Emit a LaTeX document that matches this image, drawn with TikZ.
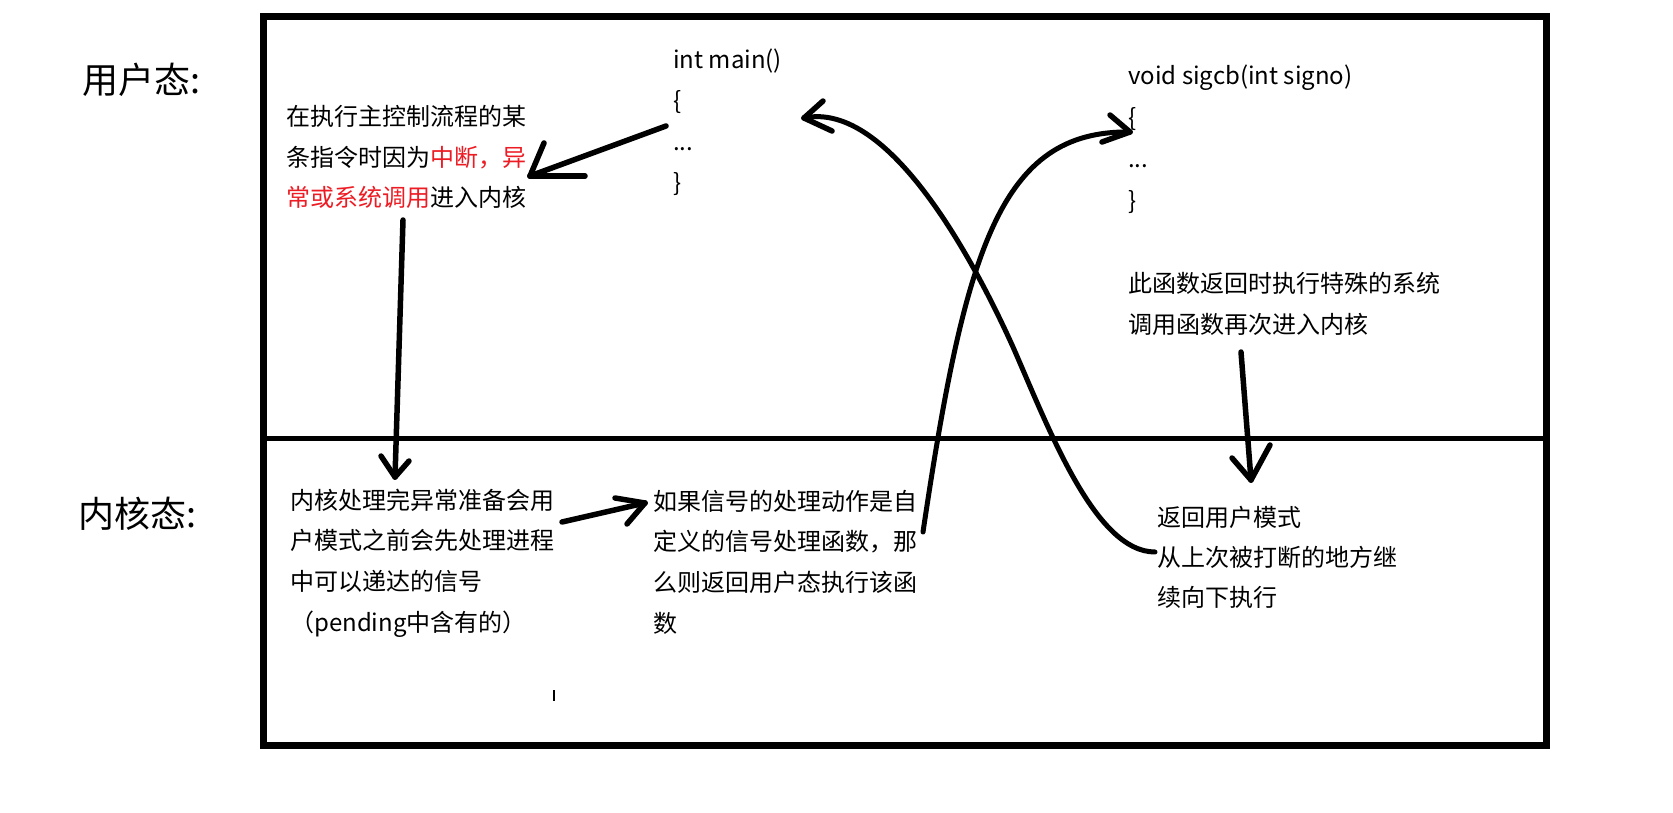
\documentclass[tikz,border=0pt]{standalone}
\usepackage{fontspec}
\setmainfont{Noto Sans CJK SC}
\definecolor{pred}{RGB}{237,28,36}
\newcommand\blk[2]{\fontsize{24}{#1}\selectfont\begin{tabular}[t]{@{}l@{}}#2\end{tabular}}
\begin{document}
\begin{tikzpicture}[x=1pt,y=-1pt,
  txt/.style={inner sep=0pt, anchor=base west, font=\fontsize{24}{40.5}\selectfont},
  lbl/.style={inner sep=0pt, anchor=base west, font=\fontsize{36}{40}\selectfont},
  frame/.style={line width=7pt},
  divider/.style={line width=5pt},
  conn/.style={line width=5.5pt, line cap=round, line join=round},
  curve/.style={line width=5pt, line cap=round}]
\useasboundingbox[fill=white] (0,0) rectangle (1673,813);

% frame and divider
\draw[frame] (263,17) rectangle (1546,745);
\coordinate (dl) at (263,438);
\coordinate (dr) at (1546,438);
\draw[divider] (dl) -- (dr);

% side labels
\node[lbl] (user) at (82,94) {用户态:};
\node[lbl] (kern) at (78,527) {内核态:};

% text blocks
\node[txt] (t1) at (286,126) {\blk{40.5}{在执行主控制流程的某\\条指令时因为\textcolor{pred}{中断，异}\\\textcolor{pred}{常或系统调用}进入内核}};
\node[txt] (mainc) at (673,69) {\blk{41}{int main()\\\{\\...\\\}}};
\node[txt] (sigc) at (1128,85) {\blk{41.5}{void sigcb(int signo)\\\{\\...\\\}\\ \\此函数返回时执行特殊的系统\\调用函数再次进入内核}};
\node[txt] (t3) at (290,509) {\blk{40.8}{内核处理完异常准备会用\\户模式之前会先处理进程\\中可以递达的信号\\（pending中含有的）}};
\node[txt] (t4) at (653,510) {\blk{40.8}{如果信号的处理动作是自\\定义的信号处理函数，那\\么则返回用户态执行该函\\数}};
\node[txt] (t5) at (1157,526) {\blk{40}{返回用户模式\\从上次被打断的地方继\\续向下执行}};

% arrow: main -> t1
\coordinate (a1s) at (666,126);
\coordinate (a1t) at (530,176);
\draw[conn] (a1s) -- (a1t);
\draw[conn] (a1t) -- ++(14,-33);
\draw[conn] (a1t) -- ++(55,0);

% arrow: t1 -> t3 (down)
\coordinate (a2s) at (403,220);
\coordinate (a2t) at (395,477);
\draw[conn] (a2s) -- (a2t);
\draw[conn] (a2t) -- ++(-14,-21);
\draw[conn] (a2t) -- ++(14,-16);

% arrow: t3 -> t4
\coordinate (a3s) at (562,522);
\coordinate (a3t) at (645,503);
\draw[conn] (a3s) -- (a3t);
\draw[conn] (a3t) -- ++(-30,-5);
\draw[conn] (a3t) -- ++(-18,21);

% arrow: sigcb -> t5 (down)
\coordinate (a4s) at (1241,352);
\coordinate (a4t) at (1251,480);
\draw[conn] (a4s) -- (a4t);
\draw[conn] (a4t) -- ++(-19,-22);
\draw[conn] (a4t) -- ++(19,-35);

% curve A: t5 back to main
\coordinate (cAt) at (804,118);
\coordinate (cAm) at (1013,347);
\coordinate (cAe) at (1155,552);
\draw[curve] (cAt) .. controls (890,100) and (976,265) .. (cAm)
                   .. controls (1049,429) and (1095,552) .. (cAe);
\draw[conn] (cAt) -- ++(19,-17);
\draw[conn] (cAt) -- ++(28,13);

% curve B: t4 to sigcb
\coordinate (cBs) at (923,532);
\coordinate (cBt) at (1130,132);
\draw[curve] (cBs) .. controls (965,250) and (1000,130) .. (cBt);
\draw[conn] (cBt) -- ++(-20,-17);
\draw[conn] (cBt) -- ++(-28,10);

% text cursor mark
\coordinate (cur1) at (554,690);
\coordinate (cur2) at (554,701);
\draw[line width=1.2pt] (cur1) -- (cur2);
\end{tikzpicture}
\end{document}
